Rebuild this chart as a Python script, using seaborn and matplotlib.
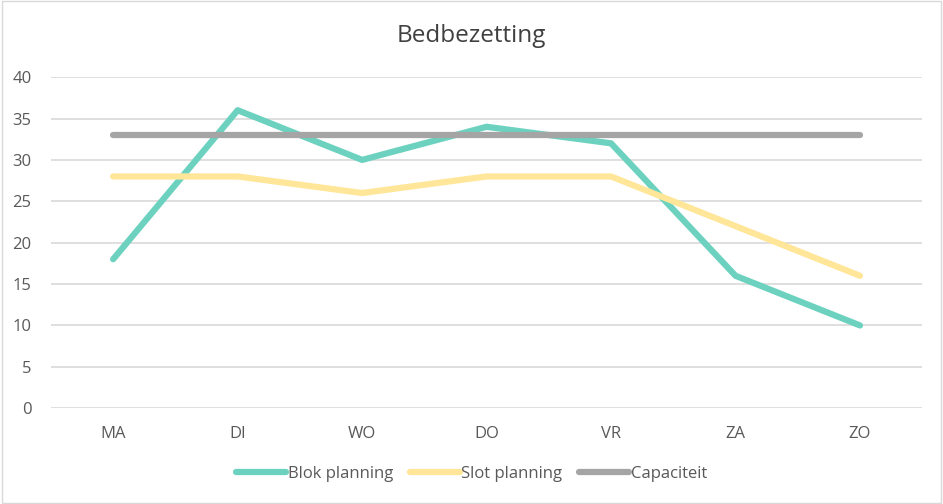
import pandas as pd
import seaborn as sns
import matplotlib.pyplot as plt

days = ["MA", "DI", "WO", "DO", "VR", "ZA", "ZO"]
blok = [18, 36, 30, 34, 32, 16, 10]
slot = [28, 28, 26, 28, 28, 22, 16]
capaciteit = [33, 33, 33, 33, 33, 33, 33]

df = pd.DataFrame({"dag": days, "Blok planning": blok,
                   "Slot planning": slot, "Capaciteit": capaciteit})
long = df.melt(id_vars="dag", var_name="serie", value_name="bedden")

sns.set_style("white")
plt.rcParams["font.family"] = ["Open Sans", "DejaVu Sans"]

fig = plt.figure(figsize=(9.43, 5.04), dpi=100)
ax = fig.add_axes([0.054, 0.19, 0.924, 0.657])

kleuren = {"Blok planning": "#6CD2BF", "Slot planning": "#FFE699", "Capaciteit": "#A5A5A5"}
sns.lineplot(data=long, x="dag", y="bedden", hue="serie", palette=kleuren,
             hue_order=["Blok planning", "Slot planning", "Capaciteit"],
             linewidth=4.5, ax=ax, sort=False)
# teal on top like in the original
for line in ax.lines:
    if line.get_label() == "Blok planning":
        line.set_zorder(5)

ax.set_xlim(-0.5, 6.5)
ax.set_ylim(0, 40)
ax.set_yticks(range(0, 41, 5))
ax.yaxis.grid(True, color="#D9D9D9", linewidth=1.2)
ax.set_axisbelow(True)
for s in ax.spines.values():
    s.set_visible(False)
ax.tick_params(axis="both", length=0, labelsize=12, labelcolor="#595959")
ax.tick_params(axis="x", pad=13)
ax.tick_params(axis="y", pad=14)
ax.set_xlabel("")
ax.set_ylabel("")

fig.text(0.5, 0.928, "Bedbezetting", ha="center", va="center",
         fontsize=17.5, color="#404040")

handles, labels = ax.get_legend_handles_labels()
ax.legend(handles, labels, loc="center", bbox_to_anchor=(0.5, 0.06),
          bbox_transform=fig.transFigure, ncol=3, frameon=False,
          fontsize=12, labelcolor="#595959", handlelength=3.0,
          handletextpad=0.1, columnspacing=1.0)

fig.patches.append(plt.Rectangle((0.002, 0.002), 0.996, 0.996, transform=fig.transFigure,
                                 fill=False, edgecolor="#D9D9D9", linewidth=1))
fig.savefig("out.png", dpi=100)
